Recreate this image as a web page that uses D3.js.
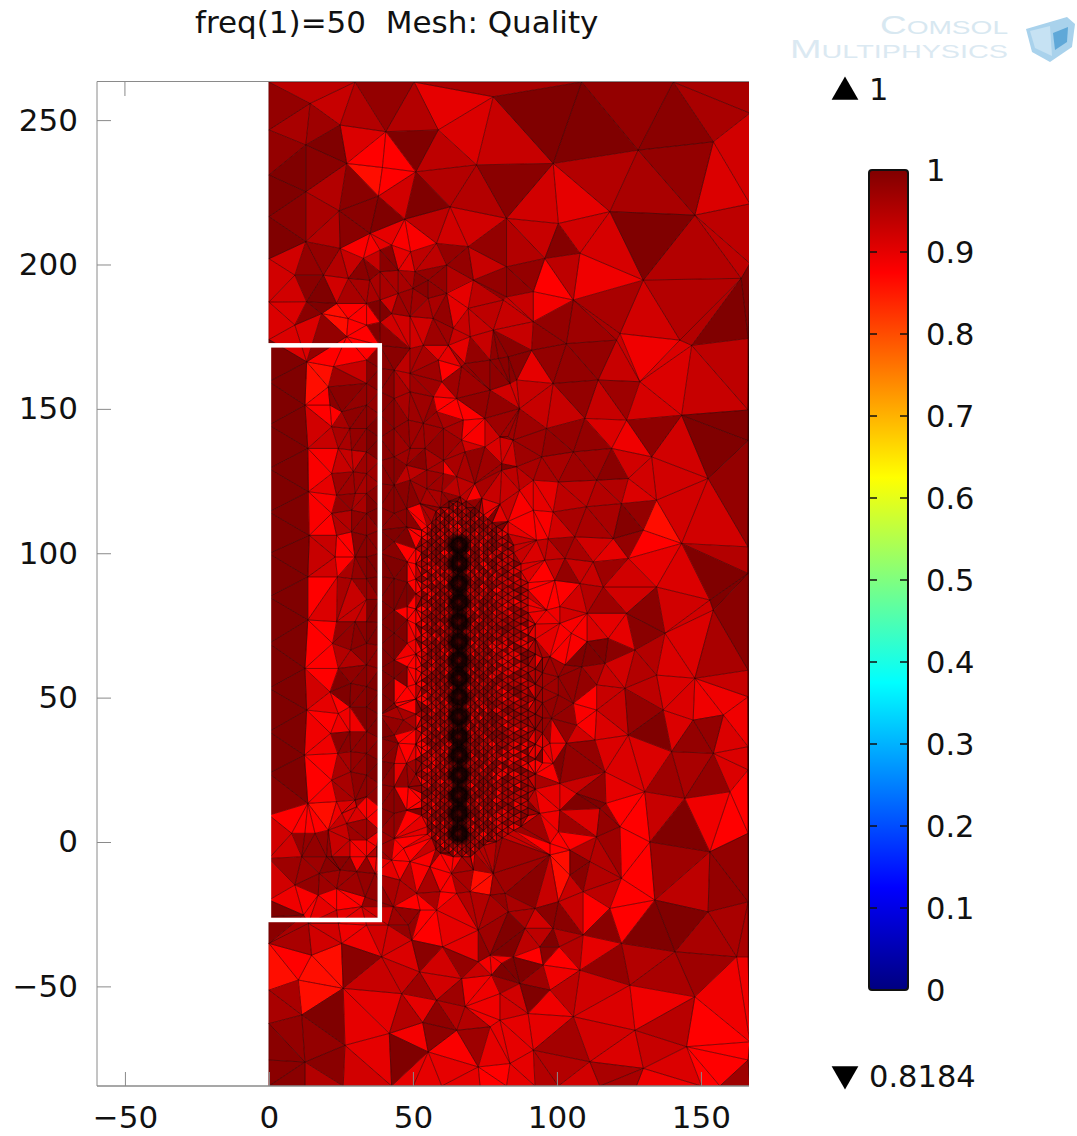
<!DOCTYPE html>
<html>
<head>
<meta charset="utf-8">
<script src="https://cdn.jsdelivr.net/npm/d3@7"></script>
<style>
html,body{margin:0;background:#fff;}
svg{display:block;}
text{font-family:"DejaVu Sans",sans-serif;fill:#111;}
</style>
</head>
<body>
<div id="chart"></div>
<script>
// mesh nodes, data units
var nodesLeftEdge = [[0,263.2],[0,246.6],[0,231],[0,216.6],[0,202],[0,187],[0,174],[0,159.4],[0,144.4],[0,129.3],[0,114.3],[0,99.9],[0,84.9],[0,68.8],[0,53.2],[0,38.2],[0,23.8],[0,9.3],[0,-5.7],[0,-20.1],[0,-25.9],[0,-35.1],[0,-51.3],[0,-62.9],[0,-75.5],[0,-84.5]];
var nodesRightEdge = [[167,263.2],[167,252.4],[167,221],[167,200.4],[166.4,174.4],[166.4,149.6],[166.4,139],[166.4,102.2],[166.4,93],[166.4,59.5],[166.4,50.3],[166.4,33],[166.4,25],[166.4,3],[166.4,-20.7],[166.4,-39.8],[167,-69.2],[166.4,-75.5],[167,-84.5]];
var nodesTop = [[14.3,255.8],[29.9,263.2],[40.6,246],[24.7,248.3],[12.8,241.4],[27,235],[39.4,233.6],[51,232.1],[38,223.7],[12.8,225.2],[24.4,218.6],[47.2,215.7],[62.9,220],[72.1,234.5],[58.8,246.6],[50.4,263.2],[77.9,258.1],[12.8,207.9],[24.7,205.6],[35.1,210.8],[18.9,196.3],[9,196.3],[32.8,202.1],[27.6,195.2],[38.6,205],[42.6,206.7],[49.2,204.4],[58.2,207.3],[69.2,206.2],[82.5,216],[61.7,199.8],[71,194.6],[55.3,194.6],[50.7,197.5],[44.9,198],[38.6,197.5],[35,194.6],[13.1,187.1],[9,179],[18.3,183],[27.5,181.3],[23.5,186.5],[33.9,186.5],[38.6,187.7],[44.9,190],[50,191.7],[55.3,188.3],[61.7,190],[69.2,184.8],[82.5,188.8],[42.6,183],[49,182],[57,181.3],[64,177.9],[69.9,175],[77.9,177.3],[33.9,179],[38.6,180],[27,175]];
var nodesTopRight = [[108.6,263.2],[140.4,263.2],[98.7,235],[128.2,239.6],[154.3,242.5],[118.4,218.3],[147.9,217.1],[100.5,214.2],[130,194.6],[108,203.9],[95.8,202.1],[91.8,190.6],[105.7,187.7],[164,195.2],[82.5,199.2],[81.4,187.7],[91.8,180.2],[121.9,176.1],[142.7,173.8]];
var nodesMidRight = [[91.2,170.3],[103.3,172.6],[120.7,173.8],[146.8,172],[143.3,147.8],[128.8,159.4],[114.3,160],[98.7,158.8],[86,160],[87,150.1],[109.7,146.7],[124.2,146.1],[96.4,143.2],[84.8,139.2],[119,136.3],[105.7,135.1],[132.9,133.4],[94.7,133.4],[152.5,125.9],[100.5,124.7],[113.8,125.3],[124.8,125.9],[134.6,118.4],[122.4,117.2],[110.3,116.1],[98.7,114.3],[130,108],[143.3,103.4],[119.6,105.1],[106.2,105.7],[97,105],[102.8,98.2],[112.6,97],[124.8,98.2],[134.6,88.3],[116.1,88.3],[108,89.5],[95.8,97.6],[99.3,90.6],[153.1,83.8],[91.8,125.3],[91.8,114.9],[92.9,104.5],[80.2,140.3],[80.8,131],[86,130],[87,121.8]];
var nodesLowRight = [[110.5,79.2],[124.2,79.2],[137.5,72.3],[154.3,80.3],[147.9,56.7],[134.6,57.8],[127.1,66.5],[117.8,70.5],[110.5,69.4],[108.6,60.7],[116.7,61.9],[123.6,53.2],[113.8,54.4],[105.7,48],[113.8,45.7],[106.8,40.5],[124.8,37],[136.9,45.7],[147.3,42.2],[157.8,44],[139.8,31.3],[154.3,30.7],[113.2,35.3],[103.3,34.2],[97.6,34.2],[116.7,24.3],[98.7,27.2],[130.5,17.4],[144.4,15.1],[160.1,17.4],[106.8,16.8],[101,20.3],[117,13.4],[101,11],[94,9.9],[132.3,0],[153.1,-3.4],[121.9,5.3],[114.9,11.6],[104.5,-2.8],[97.6,-0.5],[113.8,1.8],[100.5,3.6],[100.5,50.9],[98.1,42.8],[105,72.3],[101,75.7],[102.8,61.3],[97.6,64.2],[100.5,57.2],[96.4,80.3],[101,81.5]];
var nodesBottomRight = [[104.5,-11.5],[111.4,-6.8],[97.6,-4.5],[122.4,-12.6],[134,-20.1],[152.5,-24.2],[118.4,-23],[100.5,-20.7],[109.1,-17.2],[92.4,-23],[83.1,-24.2],[109.1,-32.2],[98.7,-29.9],[88.9,-29.9],[94.1,-36.3],[100.8,-36.3],[122.4,-35.1],[141,-38],[162.4,-39.8],[108,-44.4],[95.2,-42.6],[84.8,-39.8],[125.3,-49.6],[147.9,-53.6],[97.6,-51.3],[87.1,-49],[90,-59.4],[105.7,-60.5],[127.1,-65.2],[91.8,-72.1],[111.4,-76.1],[130,-78.4],[145,-70.9],[150.2,-84.5],[100.5,-84.5],[92.4,-84.5],[114.9,-84.5],[127.6,-84.5],[156.6,-84.5],[80.2,-61.7],[80.2,-52.5],[80.8,-42]];
var nodesBottomLeft = [[9,-14.9],[17.5,-10.9],[11.4,-5.1],[24.7,-9.7],[30.5,-10.3],[23.5,-23.6],[12,-25.3],[32.2,-22.4],[36.8,-10.9],[23.5,-16.1],[17.1,-18.4],[33.4,-19],[37.4,-5.1],[20,-5.1],[28.1,-5.1],[33.9,-5.1],[13.7,-28.2],[24.1,-28.2],[14.8,-39.2],[10.2,-47.8],[25.8,-50.7],[39.1,-39.8],[25.2,-35.1],[33.9,-28.8],[41.4,-28.8],[48.4,-28.8],[49.6,-34],[60.3,-36.3],[52.3,-45],[46.1,-52.5],[58.2,-54.8],[66.9,-47.3],[68.1,-57],[77.3,-46.1],[72.7,-41.5],[76.8,-39.2],[72.7,-30.5],[65.2,-65.2],[76.8,-64],[53.4,-62.5],[41.8,-66.3],[55.3,-72.7],[26.4,-70.4],[11.4,-59.9],[12.5,-76.2],[12.5,-84.5],[25.8,-84.5],[42.6,-84.5],[50.1,-84.5],[60,-84.5],[72.7,-77.9],[73.3,-84.5],[83.7,-76.7],[82.5,-84.5],[45.5,-13.2],[51.3,-17.8],[43.2,-22.4],[52.5,-23.6],[58.2,-23.6],[59.4,-17.2],[65.2,-17.8],[69.8,-17.2],[76.8,-18.4],[82,-17.8],[77.9,-10.9],[71,-9.7],[63.4,-10.9],[55.9,-8.6],[49,-6.8],[42.6,-6.3]];
var nodesBoxCols = [[13.1,166.3],[12.5,151.3],[13.5,136.3],[13.7,121.3],[14,106.2],[13.5,91.8],[13.5,76.9],[12.5,60.1],[13.1,45.7],[12.3,30.1],[13.5,13.4],[22.4,164.6],[20.6,157.6],[21.2,151.3],[25.3,149],[21.8,143.8],[28.1,143.2],[24.1,136.3],[28.7,135.7],[21.8,127.6],[29.3,128.2],[23.5,120.1],[29.9,120.7],[21.8,113.8],[28.7,114.9],[23.5,106.2],[28.7,107.4],[23,98.7],[29.9,98.7],[23.8,91.8],[28.7,91.2],[33.9,166.9],[33.9,158.8],[33.9,151.3],[33.9,143.2],[33.9,135.1],[33.9,127.6],[33.9,120.7],[33.9,113.8],[33.9,106.2],[33.9,98.7],[33.9,91.2],[33.9,84],[23.5,76.3],[29.9,76.3],[22.1,68.8],[28.4,66.5],[24.1,60.1],[21.2,52],[28.4,54.9],[28.1,46.8],[24.1,44.5],[21.4,37.6],[28.1,38.2],[23.9,30.7],[28.4,31.3],[21.8,21.4],[28.4,24.3],[23.5,14],[29.9,14.5],[25.3,9.9],[30.5,12.2],[27,6.4],[20.6,4.1],[12.5,3],[7.9,3],[16,3],[21.8,-5.1],[37.4,-1.6],[33.9,0.7],[28.1,0.7],[33.9,76.3],[33.9,68.8],[33.9,61.3],[33.9,53.8],[33.9,46.8],[33.9,38.2],[33.9,30.7],[33.9,23.2],[33.9,15.7],[33.9,8]];
var nodesBoxRight = [[38.5,172],[38.5,164],[38.5,156],[38.5,148],[38.5,140],[38.5,132],[38.5,124],[38.5,116],[38.5,108],[38.5,100],[38.5,92],[38.5,84],[38.5,76],[38.5,68],[38.5,60],[38.5,52],[38.5,44],[38.5,36],[38.5,28],[38.5,20],[38.5,12],[38.5,4],[43.5,163.4],[43.5,153.6],[43.5,143.2],[43.5,133.4],[43.5,123.6],[43.5,113.8],[43.5,104],[43.5,91.2],[43.5,80.3],[43.5,72.3],[43.5,63],[43.5,56.7],[43.5,48],[43.5,37],[43.5,27.2],[43.5,19.1],[43.5,9.9],[43.5,1.2],[49,170.9],[49,162.3],[49,155.9],[48.4,146.1],[49,136.3],[47.8,130.5],[49,125.3],[47.8,115.5],[47.8,109.1],[48,97],[48,90],[48,81.5],[48,76.9],[48,68.8],[48,60.7],[48,53.8],[46.7,42.2],[44.4,46.8],[44.9,34.2],[47.8,27.2],[48.4,19.1],[47.8,11],[46.7,-2.2],[53.6,172],[58.8,166.9],[62.3,172],[66.9,164.6],[60,159.4],[57.1,154.2],[65.2,153.6],[58.2,149],[53.6,145],[60.6,143.2],[67.5,146.1],[75,146.7],[66.9,139.2],[60.6,132.2],[68.1,135.1],[75,136.8],[54.2,136.3],[54.8,128.8],[60.6,127.6],[65.2,126.5],[71.5,124.1],[80.8,128.8],[83,140.3],[76.8,156.5],[83.1,168],[79.7,167.5],[68.1,165.7],[76.8,166.9],[83.7,158.8],[54.8,122.4],[60,121.3],[66.4,119.5],[52.5,117.2],[73.9,119],[80.2,117],[83,111]];

// fine mesh round the coil: column x, top and bottom of the column, row stride
var denseColX = [51,53,55,56.5,58,59.5,61,62.5,64,65.5,67,68.5,70,71.5,73,74.5,76,77.5,79,81,83,85,87.5,90,92.5,95];
var denseColTop = [104,108,111,113,115,116,117,118,118,118,118,118,117,117,116,115,114,113,111,110,107,103,98,92,78,66];
var denseColBottom = [20,8,2,-1,-3,-4,-5,-6,-6,-6,-6,-6,-6,-5,-4,-3,-2,-1,0,0,1,3,5,8,14,24];
var denseColStride = [2,1,1,1,1,1,1,1,1,1,1,1,1,1,1,1,1,1,1,1,1,1,1,1,2,2];
var denseRowY = [-7.7,-6.4,-5.1,-3.8,-2.5,-1.2,0.1,1.4,2.7,4,5.3,6.6,7.9,9.2,10.5,11.8,13.1,14.4,15.7,17,18.3,19.6,20.9,22.2,23.5,24.8,26.1,27.4,28.7,30,31.3,32.6,33.9,35.2,36.5,37.8,39.1,40.4,41.7,43,44.3,45.6,46.9,48.2,49.5,50.8,52.1,53.4,54.7,56,57.3,58.6,59.9,61.2,62.5,63.8,65.1,66.4,67.7,69,70.3,71.6,72.9,74.2,75.5,76.8,78.1,79.4,80.7,82,83.3,84.6,85.9,87.2,88.5,89.8,91.1,92.4,93.7,95,96.3,97.6,98.9,100.2,101.5,102.8,104.1,105.4,106.7,108,109.3,110.6,111.9,113.2,114.5,115.8,117.1,118];
var denseQuality = [.97,.99,.94,1,.96,.88,.98,.93,1,.97,.91,.99,.95,1,.98,.87,.96,.99,.93,1,.97,.94,.99,.9,.98,1,.95,.97,.92,.99,1,.96,.89,.98,.94,1,.97];

var qualityTop = [[6,260,.97],[21,262,.94],[7,252,.98],[20,255,.93],[19,247,.97],[3,243,.98],[7,249,.96],[32,253,.95],[40,259,.98],[48,251,.95],[64,257,.9],[33,242,.91],[48,242,1],[21,241,1],[9,237,1],[3,233,.99],[19,234,.99],[34,237,.875],[44,237,.875],[33,230,.865],[44,229,.87],[44,222,.92],[30,225,.99],[19,227,.95],[6,225,1],[5,218,.99],[19,220,.96],[29,218,.99],[42,220,1],[54,223,1],[63,229,.95],[57,241,.94],[69,247,.91],[78,243,.93],[66,238,.93],[75,226,.95],[56,217,.94],[69,215,.92],[77,210,.98],[40,211,.9],[47,210,.88],[32,206,.88],[4,210,1],[19,212,.95],[30,212,.99],[7,203,.92],[19,203,.98],[5,192,.92],[14,193,.99],[23,199,.95],[29,203,.93],[23,192,.92],[19,189,1],[28,190,.96],[6,183,.91],[14,182,.99],[23,183,.865],[32,183,.875],[22,177,.98],[27,177,.875],[13,176,.91],[41,201,.99],[47,201,.9],[57,205,.94],[66,200,.98],[75,203,.93],[78,192,.98],[74,184,.94],[66,195,.95],[65,185,.9],[58,195,.98],[52,196,.99],[46,195,.96],[34,198,.99],[36,202,.93],[38,192,.96],[43,190,.92],[40,183,1],[48,185,.97],[55,183,.96],[62,182,.98],[49,176,.92],[59,177,.97],[80,181,.94],[71,178,.93]];
var qualityTopRight = [[92,262,.96],[115,262,.97],[154,262,.96],[94,251,1],[113,247,1],[127,252,.98],[142,249,.99],[152,255,.96],[164,259,.97],[161,244,.92],[87,242,.93],[85,229,.99],[92,223,.92],[108,226,.9],[110,234,.95],[129,226,.96],[140,230,.98],[159,229,.91],[162,212,.94],[133,210,1],[150,207,.95],[159,200,.94],[116,210,.915],[108,212,.92],[92,210,.93],[102,207,.995],[87,206,.95],[115,196,.89],[100,198,.94],[98,193,.875],[86,195,.98],[96,185,.885],[86,184,.93],[99,180,.98],[111,183,.96],[130,183,.92],[147,185,.95],[161,183,1],[124,178,.94],[109,176,.97]];
var qualityMidRight = [[95,167,.98],[107,167,.98],[120,166,.93],[132,168,.89],[138,163,.91],[155,166,.94],[154,155,.93],[133,153,.915],[121,153,.97],[106,153,.98],[93,154,.93],[91,162,.9],[83,162,.99],[84,154,.92],[114,152,.93],[103,150,.93],[92,146,.97],[102,140,.98],[111,141,.98],[118,143,.91],[124,139,.89],[133,140,.985],[142,138,.92],[155,139,1],[164,136,.99],[91,138,.97],[126,135,.92],[111,130,.97],[120,130,.99],[99,130,.96],[130,125,.92],[142,125,.92],[160,123,.98],[107,128,.97],[128,121,.91],[117,122,.95],[106,120,.94],[95,121,.9],[95,113,.88],[113,111,.96],[124,111,.995],[130,115,.98],[136,110,.86],[135,103,.875],[152,116,.92],[157,104,.95],[154,95,1],[144,93,.91],[132,99,.9],[124,103,.98],[121,99,.9],[120,93,.97],[111,93,.93],[111,103,.92],[105,110,.96],[100,110,.92],[107,100,.96],[102,102,.97],[98,99,.935],[103,93,.98],[98,88,.87],[109,87,.95],[129,88,.92],[164,90,1]];
var qualityLowRight = [[95,81,.89],[106,80,.92],[107,73,.88],[116,81,.97],[113,72,.91],[121,73,.9],[131,78,.99],[145,79,.92],[143,69,.91],[129,61,.95],[122,60,.92],[113,65,1],[121,68,.99],[110,58,.98],[114,58,.96],[120,56,.93],[131,50,.94],[143,50,.91],[152,56,.93],[161,70,.96],[162,77,.99],[155,49,.89],[164,46,.89],[110,48,.875],[120,45,.93],[130,41,.98],[132,38,1],[143,39,.91],[150,35,.98],[159,38,.91],[115,40,.91],[110,42,.88],[102,48,.98],[108,38,.92],[100,34,.89],[110,30,.98],[103,29,1],[121,31,.91],[131,28,.91],[137,22,.97],[147,25,.96],[153,22,.98],[164,26,.91],[123,19,.9],[113,19,.98],[105,21,.93],[102,16,.9],[111,13,1],[105,10,.97],[99,9,.89],[118,7,.98],[125,10,.875],[137,9,.93],[143,5,1],[154,10,.89],[164,10,.875],[110,5,.91],[103,1,.875],[127,1,.875],[115,-2,.97],[109,-3,.95],[144,-3,.95],[161,-2,.97],[85,65,.9],[87,29,.89],[95,26,.88],[98,10,.89],[92,72,.9],[93,62,.96],[98,57,.97],[93,49,.97],[98,40,.98],[96,33,.9],[92,19,.96],[93,7,.97],[99,-2,.875]];
var qualityBottomRight = [[101,-6,.865],[108,-6,.99],[117,-9,.95],[126,-8,.875],[143,-10,.97],[159,-10,.98],[145,-18,.94],[126,-19,.875],[159,-26,.96],[144,-25,1],[131,-28,1],[126,-26,.875],[116,-29,.99],[114,-26,.875],[106,-23,.93],[111,-20,.94],[98,-25,.99],[95,-19,.93],[87,-14,.99],[86,-9,.97],[87,-26,.96],[92,-28,.92],[84,-34,1],[91,-35,.94],[98,-34,1],[105,-35,.95],[115,-36,.9],[101,-42,.875],[91,-40,.875],[96,-40,.99],[117,-44,.98],[133,-42,.95],[152,-35,.96],[141,-46,.96],[154,-46,.97],[86,-46,1],[92,-47,.97],[102,-47,.89],[93,-54,1],[114,-49,.92],[102,-55,.94],[86,-54,.92],[118,-56,.91],[136,-57,.89],[154,-61,.875],[164,-54,.89],[139,-64,.945],[117,-66,.92],[105,-68,.965],[98,-59,.89],[85,-59,.92],[96,-64,.9],[86,-70,.9],[122,-72,.91],[136,-73,.93],[153,-76,.875],[164,-79,.97],[100,-77,.95],[86,-79,.9],[106,-81,.92],[121,-81,.96],[133,-83,.89],[144,-80,.91],[95,-81,.95]];
var qualityBottomLeft = [[4,-11,.92],[14,-10,.97],[10,-10,.97],[22,-9,.99],[15,-17,.98],[21,-14,.97],[5,-21,.89],[12,-18,.88],[13,-22,.88],[4,-25,1],[18,-22,.9],[23,-19,.875],[28,-20,.875],[29,-25,.9],[22,-25,.93],[35,-19,.98],[35,-24,.92],[30,-14,.97],[36,-14,.98],[4,-32,.99],[9,-34,.96],[19,-34,.92],[3,-42,.865],[18,-43,.865],[10,-41,.875],[21,-46,.865],[30,-41,.99],[30,-33,.89],[40,-34,.92],[36,-47,.93],[45,-42,.91],[47,-49,.93],[51,-50,.97],[57,-42,.92],[54,-39,.99],[55,-32,.875],[65,-33,.9],[66,-41,.98],[72,-43,.93],[79,-41,.885],[73,-34,.985],[81,-35,.97],[63,-51,.97],[58,-49,.92],[72,-51,.89],[80,-51,.97],[72,-59,.89],[69,-61,.95],[58,-59,.985],[50,-58,.9],[47,-59,.95],[58,-69,.985],[66,-72,.88],[71,-69,.97],[80,-72,.9],[50,-68,.885],[45,-65,.96],[33,-59,.9],[19,-63,1],[5,-57,.96],[5,-65,.98],[19,-71,.98],[5,-72,.99],[34,-74,.9],[48,-74,1],[22,-79,.99],[6,-80,.99],[17,-81,.95],[34,-81,.92],[48,-83,.9],[65,-80,.9],[78,-81,.875],[49,-8,.875],[55,-10,.88],[62,-12,.88],[44,-14,.96],[42,-11,.9],[48,-14,.95],[55,-17,.96],[51,-21,.875],[59,-18,.875],[70,-17,.865],[77,-23,.96],[71,-23,.95],[64,-22,.9],[58,-25,.875],[48,-25,.98],[43,-25,.97],[81,-22,.98],[80,-14,.97],[66,-13,.96]];
var qualityBox = [[6,160,1],[6,140,1],[6,120,1],[6,100,1],[6,80,1],[6,60,1],[6,40,1],[6,20,.99],[9,159,1],[9,144,1],[9,129,1],[9,114,1],[9,99,1],[9,84,1],[9,68,1],[9,53,1],[9,38,1],[9,23,1],[4,0,.92],[14,7,.875],[19,12,.865],[20,8,.89],[16.5,160,.86],[16.5,154,.875],[17,147,.92],[19,147,.875],[17,140,.93],[18,131,.88],[18,124,.9],[18,116,.88],[19,109,.875],[18,101,.93],[26,99,.875],[19,94,.92],[18,87,.875],[18,169,.875],[27,169,.875],[25,160,.97],[30,162,.93],[32,154,.98],[17,80,.875],[20,80,.91],[18,72,.875],[18,65,.875],[19,56,.875],[18,50,.92],[19,48,.9],[25,48,.875],[18,42,.875],[25,42,.89],[17,33,.875],[19,35,.89],[17,24,.875],[19,17,.88],[25,16,.96],[26,154,.99],[26,140,.96],[26,133,.93],[26,125,.97],[25,117,.98],[25,111,.95],[32,147,.985],[32,139,.98],[32,128,.97],[32,118,.96],[32,109,.985],[32,100,.99],[26,91,.96],[32,89,.98],[36,162,.99],[36,139,1],[36,116,1],[36,93,1],[26,79,.93],[27,72,.98],[32,72,.99],[26,64,.95],[32,63,.985],[25,54,1],[32,51,.99],[26,35,.99],[32,35,.985],[26,26,.96],[32,26,.98],[32,18,.985],[36,72,1],[36,49,1],[36,26,1],[28,10,.91],[33,10,.88],[32,3,.97],[25,3,.93],[17,0,.98],[34,-1,.885]];
var qualityBoxRight = [[41,160,.99],[41,140,.99],[41,120,.99],[41,100,.99],[41,90,1],[41,80,1],[41,70,1],[41,60,1],[41,50,1],[41,40,1],[41,30,.99],[41,20,.99],[41,10,.99],[41,0,.97],[44,168,.99],[44,150,.99],[44,130,.99],[44,115,.99],[44,85,1],[44,40,.98],[47,163,.94],[52,166,.96],[62,163,.87],[49,168,.96],[63,168,.9],[47,155,.96],[54,156,.97],[62,156,.89],[60,152,.875],[71,162,.98],[80,154,.95],[71,153,.98],[78,162,.985],[47,146,.98],[54,148,.98],[71,148,.875],[78,150,.98],[71,143,.88],[63,140,.97],[80,141,.92],[54,139,.97],[47,136,.97],[58,135,.98],[71,138,.92],[78,136,.91],[83,135,.92],[47,128,.94],[54,132,.99],[57,131,.96],[62,130,.88],[66,131,.96],[72,131,.98],[78,129,.97],[51,124,.97],[59,124,.97],[66,123,.94],[73,122,.88],[80,122,.93],[47,118,.99],[57,118,.96],[63,117,.98],[70,117,.98],[75,114,.9],[80,111,.9],[54,109,.88],[47,109,.99],[50,100,.875],[50,93,.875],[44,105,1],[44,93,1],[45,72,1],[45,60,1],[50,77,.875],[50,69,.89],[50,61,.875],[50,55,.88],[47,49,.875],[47,43,.96],[47,35,.875],[50,38,.88],[45,28,.9],[51,24,.97],[48,21,.98],[49,14,.875],[45,12,.99],[49,9,.875],[45,5,.98],[54,5,.9],[48,-3,.875],[43,3,.98],[52,10,.96],[52,160,.97],[52,150,.97],[52,140,.97],[57,143,.97],[57,127,.97],[66,158,.97],[75,160,.98],[75,152,.97],[66,143,.96],[63,133,.96],[69,128,.96],[76,125,.96],[84,145,.97],[84,125,.94],[66,115,.97],[58,113,.96]];
var qualityCoil = [[56,100,.95],[56,80,.95],[56,60,.95],[56,40,.96],[56,20,.96],[56,5,.93],[60,110,.95],[70,110,.96],[75,100,.95],[84,100,.93],[84,85,.93],[84,75,.95],[84,50,.95],[84,40,.96],[84,15,.95],[84,5,.93],[90,95,.91],[90,85,.93],[90,55,.95],[88,40,.96],[89,15,.94],[75,10,.95],[70,0,.95],[60,0,.93]];

var wireY = [3,9.9,16.3,23.2,30.1,36.5,43.4,50.3,56.7,63,69.4,76.3,83,89.5,96.4,102.8];
var wireX = 66;
var boxX = [0,38.5], boxY = [-27,172];

var xTicks = [-50,0,50,100,150];
var yTicks = [-50,0,50,100,150,200,250];
var barTicks = [0,.1,.2,.3,.4,.5,.6,.7,.8,.9,1];
var qualityMax = "1", qualityMin = "0.8184";
var titleText = "freq(1)=50\u00a0\u00a0Mesh: Quality";

var width = 1077, height = 1136;
var svg = d3.select("#chart").append("svg").attr("width",width).attr("height",height);
var defs = svg.append("defs");

var x = d3.scaleLinear().domain([-59.7,166.7]).range([97,749]);
var y = d3.scaleLinear().domain([-84.5,263.2]).range([1086,82]);
var jet = d3.scaleLinear()
    .domain([0,.125,.375,.625,.875,1])
    .range(["#000080","#0000ff","#00ffff","#ffff00","#ff0000","#800000"])
    .clamp(true);

defs.append("clipPath").attr("id","plotclip").append("rect")
    .attr("x",97).attr("y",82).attr("width",652).attr("height",1004);
defs.append("filter").attr("id","soft").append("feGaussianBlur").attr("stdDeviation",.55);

var wireGrad = defs.append("radialGradient").attr("id","wire");
wireGrad.append("stop").attr("offset","0%").attr("stop-color","#300").attr("stop-opacity",.6);
wireGrad.append("stop").attr("offset","30%").attr("stop-color","#100").attr("stop-opacity",.9);
wireGrad.append("stop").attr("offset","60%").attr("stop-color","#000").attr("stop-opacity",.85);
wireGrad.append("stop").attr("offset","100%").attr("stop-color","#000").attr("stop-opacity",0);

// build the node list, coarse part then the coil part
var nodes = [].concat(nodesLeftEdge,nodesRightEdge,nodesTop,nodesTopRight,nodesMidRight,nodesLowRight,nodesBottomRight,nodesBottomLeft,nodesBoxCols,nodesBoxRight);
denseColX.forEach(function(cx,i){
    denseRowY.forEach(function(ry,j){
        if(ry>denseColTop[i] || ry<denseColBottom[i]) return;
        if((i+j)%(2*denseColStride[i])==0) nodes.push([cx,ry]);
    });
});

var samples = [].concat(qualityTop,qualityTopRight,qualityMidRight,qualityLowRight,qualityBottomRight,qualityBottomLeft,qualityBox,qualityBoxRight,qualityCoil);
var sampleIndex = d3.Delaunay.from(samples);

var tris = [];
var del = d3.Delaunay.from(nodes);
for(var t=0;t<del.triangles.length/3;t++){
    var a=nodes[del.triangles[3*t]], b=nodes[del.triangles[3*t+1]], c=nodes[del.triangles[3*t+2]];
    var area = Math.abs((b[0]-a[0])*(c[1]-a[1])-(c[0]-a[0])*(b[1]-a[1]))/2;
    var cx=(a[0]+b[0]+c[0])/3, cy=(a[1]+b[1]+c[1])/3;
    var q = samples[sampleIndex.find(cx,cy)][2];
    var fine = area<7;
    if(fine && (cx>55 && cx<80 || t%2==0)) q = denseQuality[t%denseQuality.length];
    tris.push({pts:[a,b,c],q:q,fine:fine});
}

var line = d3.line().x(function(d){return x(d[0])}).y(function(d){return y(d[1])}).curve(d3.curveLinearClosed);

var mesh = svg.append("g").attr("clip-path","url(#plotclip)").append("g").attr("filter","url(#soft)");
mesh.selectAll("path.fill").data(tris).enter().append("path")
    .attr("class","fill")
    .attr("d",function(d){return line(d.pts)})
    .attr("fill",function(d){return jet(d.q)})
    .attr("stroke",function(d){return jet(d.q)})
    .attr("stroke-width",.6);
mesh.selectAll("path.edge").data(tris).enter().append("path")
    .attr("class","edge")
    .attr("d",function(d){return line(d.pts)})
    .attr("fill","none")
    .attr("stroke",function(d){return d.fine?"#200":"#300"})
    .attr("stroke-opacity",function(d){return d.fine?.7:.42})
    .attr("stroke-width",function(d){return d.fine?.7:.8});
mesh.selectAll("circle").data(wireY).enter().append("circle")
    .attr("cx",x(wireX))
    .attr("cy",function(d){return y(d)})
    .attr("r",13)
    .attr("fill","url(#wire)");

// white rectangle on top of the mesh
svg.append("rect")
    .attr("x",x(boxX[0])).attr("y",y(boxY[1]))
    .attr("width",x(boxX[1])-x(boxX[0])).attr("height",y(boxY[0])-y(boxY[1]))
    .attr("fill","none").attr("stroke","#fff").attr("stroke-width",4.5);

// frame and axes
var axisColor = "#8a8a8a";
svg.append("path").attr("d","M97,1086V81.5H749").attr("fill","none").attr("stroke",axisColor);
svg.append("path").attr("d","M97,1086H749").attr("fill","none").attr("stroke",axisColor).attr("stroke-width",1.5);

var xAxis = d3.axisBottom(x).tickValues(xTicks).tickSize(-14).tickPadding(20)
    .tickFormat(function(d){return d3.format("")(d)});
var yAxis = d3.axisLeft(y).tickValues(yTicks).tickSize(-14).tickPadding(19)
    .tickFormat(function(d){return d3.format("")(d)});

var gx = svg.append("g").attr("transform","translate(0,1086)").call(xAxis);
var gy = svg.append("g").attr("transform","translate(97,0)").call(yAxis);
[gx,gy].forEach(function(g){
    g.select(".domain").remove();
    g.selectAll("line").attr("stroke",axisColor);
    g.selectAll("text").attr("font-size",31).attr("font-family","DejaVu Sans").attr("fill","#111");
});
gx.selectAll("text").attr("dy","0.71em");
svg.append("g").selectAll("line").data(xTicks.slice(0,1)).enter().append("line")
    .attr("x1",function(d){return x(d)}).attr("x2",function(d){return x(d)})
    .attr("y1",82).attr("y2",96).attr("stroke",axisColor);

svg.append("text").attr("x",195).attr("y",33).attr("font-size",31).text(titleText);

// colour bar
var barY = d3.scaleLinear().domain([0,1]).range([990,170]);
var barGrad = defs.append("linearGradient").attr("id","bar")
    .attr("x1",0).attr("x2",0).attr("y1",1).attr("y2",0);
jet.domain().forEach(function(v){
    barGrad.append("stop").attr("offset",v).attr("stop-color",jet(v));
});
svg.append("rect").attr("x",869).attr("y",barY(1)).attr("width",39).attr("height",barY(0)-barY(1))
    .attr("rx",3).attr("fill","url(#bar)").attr("stroke","#111").attr("stroke-width",2);
var barAxis = svg.append("g");
barAxis.selectAll("path").data(barTicks.slice(1,-1)).enter().append("path")
    .attr("d",function(d){return "M869,"+barY(d)+"h8M908,"+barY(d)+"h-8"})
    .attr("stroke","#111").attr("stroke-width",1.5).attr("fill","none");
barAxis.selectAll("text").data(barTicks).enter().append("text")
    .attr("x",926).attr("y",function(d){return barY(d)}).attr("dy",".36em")
    .attr("font-size",30.5).text(function(d){return d3.format("")(d)});

// max and min markers
var triangle = d3.symbol().type(d3.symbolTriangle).size(310);
svg.append("path").attr("d",triangle()).attr("transform","translate(845,92)").attr("fill","#000");
svg.append("path").attr("d",triangle()).attr("transform","translate(845,1074) rotate(180)").attr("fill","#000");
svg.append("text").attr("x",869).attr("y",100).attr("font-size",30.5).text(qualityMax);
svg.append("text").attr("x",869).attr("y",1087).attr("font-size",30.5).text(qualityMin);

// faded logo
var logo = svg.append("g");
var logoFont = "'Liberation Sans',sans-serif";
var comsol = logo.append("text").attr("x",880).attr("y",34).attr("font-size",19).attr("textLength",128).attr("lengthAdjust","spacingAndGlyphs")
    .style("font-family",logoFont).style("fill","#d8e8f1");
comsol.append("tspan").attr("font-size",25).text("C");
comsol.append("tspan").text("OMSOL");
var multi = logo.append("text").attr("x",790).attr("y",58).attr("font-size",19).attr("textLength",218).attr("lengthAdjust","spacingAndGlyphs")
    .style("font-family",logoFont).style("fill","#dbe9f2");
multi.append("tspan").attr("font-size",25).text("M");
multi.append("tspan").text("ULTIPHYSICS");
logo.append("path").attr("d","M1026,29L1067,17L1075,24L1072,47L1050,62L1032,52Z").attr("fill","#a9d2ec");
logo.append("path").attr("d","M1030,31L1050,26L1052,56L1035,48Z").attr("fill","#c6e2f3");
logo.append("path").attr("d","M1053,33L1068,27L1067,42L1055,50Z").attr("fill","#5fa8d8");
</script>
</body>
</html>
